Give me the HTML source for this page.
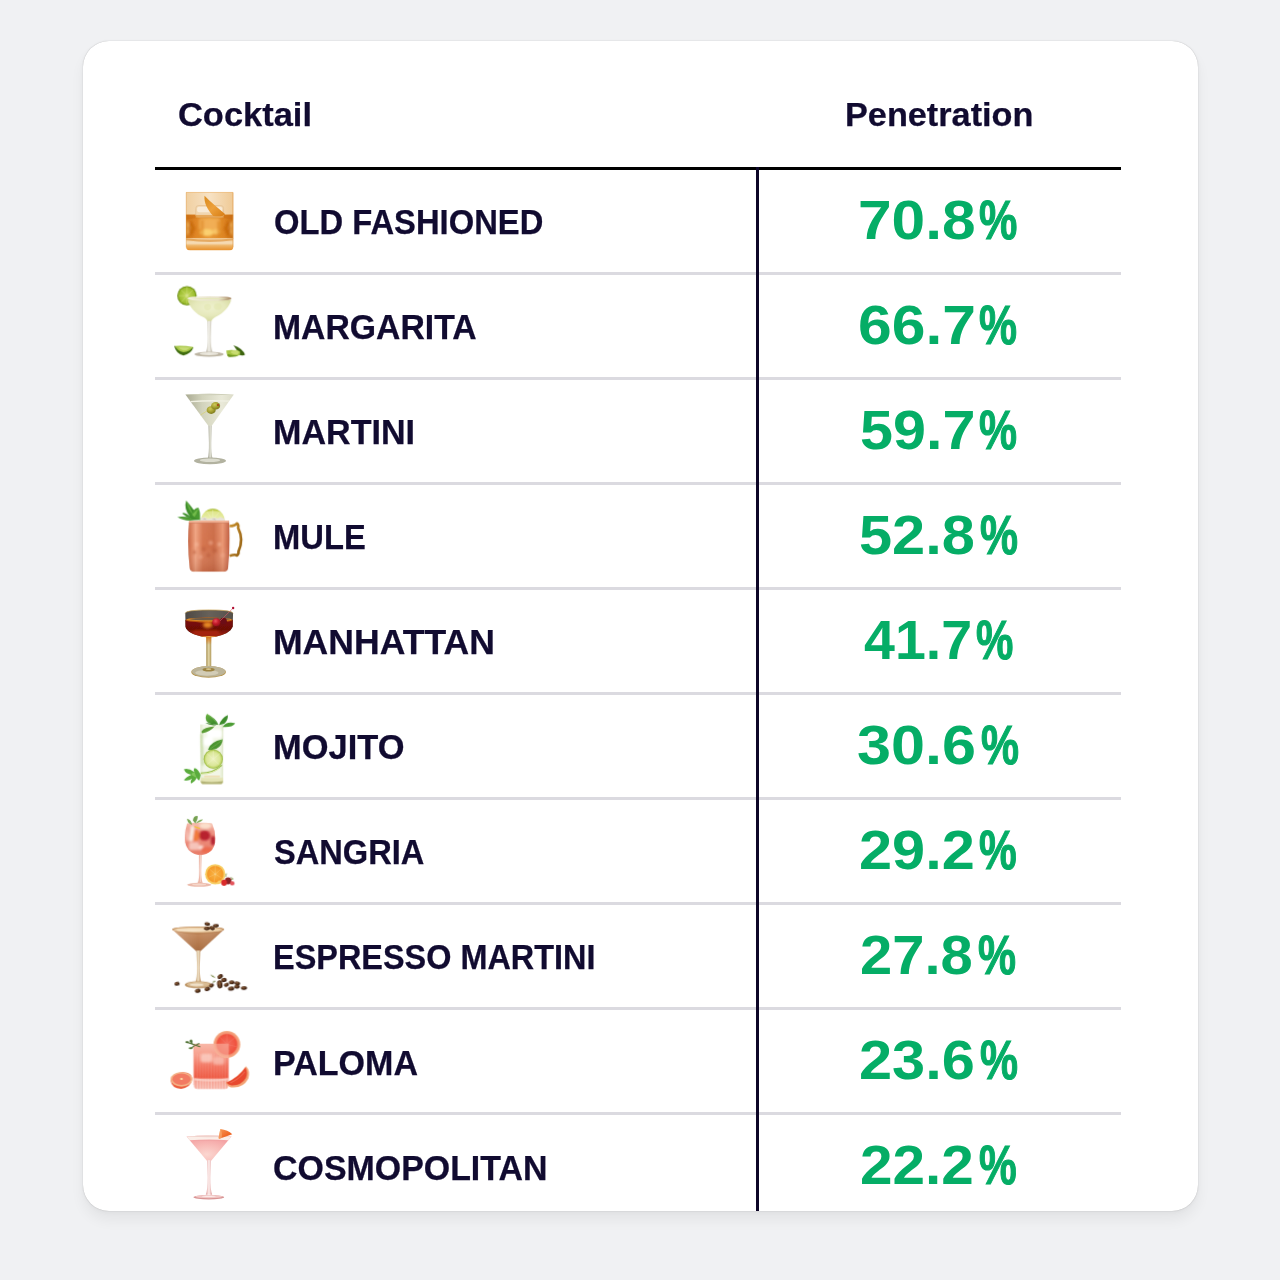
<!DOCTYPE html>
<html lang="en"><head><meta charset="utf-8"><title>Cocktail Penetration</title>
<style>
*{margin:0;padding:0;box-sizing:border-box}
html,body{width:1280px;height:1280px;overflow:hidden;background:#f0f1f3}
body{font-family:"Liberation Sans",sans-serif;font-weight:700;position:relative}
.card{position:absolute;left:83px;top:41px;width:1114.5px;height:1170px;background:#fff;border-radius:26px;box-shadow:0 0 1px rgba(0,0,0,.3),0 9px 14px rgba(0,0,0,.055),0 1px 5px rgba(0,0,0,.035)}
.card>*{position:absolute}
.t{white-space:nowrap;transform-origin:0 0}
.th{font-size:34px;line-height:34px;color:#110b30;-webkit-text-stroke:.25px #110b30}
.name{font-size:34.2px;line-height:34.2px;color:#110b30;-webkit-text-stroke:.25px #110b30}
.pct{font-size:55px;line-height:55px;color:#05ad66}
.row{left:72px;width:966px;height:105px}
.row>*{position:absolute}
.sep{left:0;top:0;width:966px;height:3px;background:#dbdae0}
.hline{left:72px;top:125.5px;width:965.6px;height:3.5px;background:#000}
.vline{left:673px;top:125.5px;width:3px;height:1044.5px;background:#0d0628}
.ico{left:0;top:3.4px;overflow:visible}
.pp{-webkit-text-stroke:1.1px #05ad66}

</style></head><body>
<div class="card">
<div class="t th" style="left:95.33px;top:56.00px;transform:scaleX(1.0128)">Cocktail</div>
<div class="t th" style="left:761.73px;top:56.00px;transform:scaleX(1.0074)">Penetration</div>
<div class="row" style="top:126.00px">
<svg class="ico" style="left:5px;top:3px" width="100" height="100" viewBox="0 0 1280 1280">
<defs>
<filter id="of-b" x="-10%" y="-10%" width="120%" height="120%"><feGaussianBlur stdDeviation="5"/></filter>
<filter id="of-b2" x="-20%" y="-20%" width="140%" height="140%"><feGaussianBlur stdDeviation="14"/></filter>
<linearGradient id="of-top" x1="0" x2="1" y1="0" y2="0"><stop offset="0" stop-color="#f0cfa0"/><stop offset=".5" stop-color="#f7e2c4"/><stop offset="1" stop-color="#efc994"/></linearGradient>
<linearGradient id="of-liq" x1="0" x2="1" y1="0" y2="0"><stop offset="0" stop-color="#cc7216"/><stop offset=".2" stop-color="#de8424"/><stop offset=".5" stop-color="#e99a36"/><stop offset=".8" stop-color="#dd8422"/><stop offset="1" stop-color="#c66c12"/></linearGradient>
<linearGradient id="of-base" x1="0" x2="0" y1="0" y2="1"><stop offset="0" stop-color="#f0c48a"/><stop offset=".4" stop-color="#f6ddb8"/><stop offset=".6" stop-color="#eeb466"/><stop offset="1" stop-color="#e78c24"/></linearGradient>
<linearGradient id="of-peel" x1="0" x2="1" y1="0" y2="1"><stop offset="0" stop-color="#d98a1e"/><stop offset=".5" stop-color="#eda03a"/><stop offset="1" stop-color="#d67c14"/></linearGradient>
<clipPath id="of-clip"><path d="M330 278H940V975Q940 1030 885 1030H388Q333 1030 333 975Z"/></clipPath>
</defs>
<g filter="url(#of-b)">
<g clip-path="url(#of-clip)">
<rect x="325" y="275" width="620" height="310" fill="url(#of-top)"/>
<rect x="325" y="275" width="620" height="14" fill="#ecb878"/>
<rect x="325" y="570" width="620" height="310" fill="url(#of-liq)"/>
<rect x="325" y="870" width="620" height="165" fill="url(#of-base)"/>
<path d="M330 585Q640 560 940 585V630Q640 595 330 630Z" fill="#c96c12" opacity=".5"/>
<g filter="url(#of-b2)">
<path d="M340 640L400 740L340 850ZM930 640L870 740L930 850Z" fill="#f5c068" opacity=".8"/>
<path d="M400 640L460 750L400 860L350 750ZM870 640L810 750L870 860L920 750Z" fill="#c05e0a" opacity=".55"/>
<rect x="500" y="620" width="270" height="150" rx="30" fill="#f4b45c" opacity=".8"/>
<ellipse cx="600" cy="800" rx="90" ry="45" fill="#fbd070"/>
<ellipse cx="720" cy="790" rx="50" ry="35" fill="#f8c466"/>
<rect x="520" y="640" width="40" height="200" fill="#d9801c" opacity=".5"/>
<rect x="730" y="650" width="40" height="190" fill="#d9801c" opacity=".5"/>
</g>
<path d="M335 872Q640 915 938 872V900Q640 945 335 900Z" fill="#d98a30" opacity=".55"/>
</g>
<rect x="458" y="455" width="355" height="150" rx="34" fill="#f1d6b0" stroke="#e6c193" stroke-width="10"/>
<rect x="475" y="470" width="320" height="70" rx="24" fill="#f8ead6"/>
<path d="M455 575H815V615H455Z" fill="#e39a40" opacity=".75"/>
<path d="M570 328C650 410 740 480 835 565C800 598 740 592 682 588C610 510 560 420 570 328Z" fill="url(#of-peel)"/>
<rect x="928" y="290" width="12" height="700" fill="#e09a48" opacity=".7"/>
<rect x="330" y="290" width="10" height="700" fill="#e09a48" opacity=".5"/>
</g>
</svg>
</div>
<div class="t name" style="left:190.50px;top:163.95px;transform:scaleX(0.9580)">OLD FASHIONED</div>
<div class="t pct" style="left:774.53px;top:151.50px;transform:scaleX(1.0983)">70.8</div><div class="t pct pp" style="left:896.45px;top:151.50px;transform:scaleX(0.7835)">%</div>
<div class="row" style="top:231.00px">
<div class="sep"></div>
<svg class="ico" style="left:5px;top:3px" width="100" height="100" viewBox="0 0 1280 1280">
<defs>
<filter id="mg-b" x="-10%" y="-10%" width="120%" height="120%"><feGaussianBlur stdDeviation="5"/></filter>
<radialGradient id="mg-lime" cx=".5" cy=".5" r=".5"><stop offset="0" stop-color="#dfe9a0"/><stop offset=".25" stop-color="#b9d252"/><stop offset=".8" stop-color="#9dbe30"/><stop offset=".9" stop-color="#7c9e18"/><stop offset="1" stop-color="#5f8410"/></radialGradient>
<radialGradient id="mg-liq" cx=".5" cy=".35" r=".6"><stop offset="0" stop-color="#eff1cf"/><stop offset=".6" stop-color="#e6e9bc"/><stop offset="1" stop-color="#d7dba2"/></radialGradient>
<linearGradient id="mg-stem" x1="0" x2="1" y1="0" y2="0"><stop offset="0" stop-color="#b5ae9c"/><stop offset=".45" stop-color="#f4f3ec"/><stop offset="1" stop-color="#bdb6a6"/></linearGradient>
<linearGradient id="mg-rim" x1="0" x2="1" y1="0" y2="0"><stop offset="0" stop-color="#f2efdd"/><stop offset=".7" stop-color="#e9e2cc"/><stop offset=".9" stop-color="#b89e7c"/><stop offset="1" stop-color="#a98a66"/></linearGradient>
</defs>
<g filter="url(#mg-b)">
<circle cx="345" cy="265" r="124" fill="url(#mg-lime)"/>
<g stroke="#d3e080" stroke-width="7" opacity=".8"><path d="M345 265L260 180M345 265L235 265M345 265L270 350M345 265L345 150M345 265L430 185M345 265L345 375"/></g>
<path d="M355 318C370 400 450 500 565 545C590 560 605 580 610 600H655C660 575 680 555 705 540C820 490 895 400 910 318Z" fill="url(#mg-liq)"/>
<ellipse cx="610" cy="410" rx="45" ry="40" fill="#dfe3a6" opacity=".4"/>
<ellipse cx="740" cy="405" rx="50" ry="40" fill="#dfe3a6" opacity=".4"/>
<path d="M350 300Q350 272 632 272Q915 272 915 300Q915 330 632 330Q350 330 350 300Z" fill="url(#mg-rim)"/>
<path d="M385 305Q632 285 880 305Q632 318 385 305Z" fill="#e4e8b8"/>
<path d="M606 590H658L650 800Q650 930 672 985H590Q612 930 612 800Z" fill="url(#mg-stem)"/>
<ellipse cx="628" cy="1015" rx="186" ry="32" fill="#bcb4a2"/>
<ellipse cx="628" cy="1008" rx="120" ry="18" fill="#ece9df"/>
<path d="M182 910Q300 935 428 925Q400 1010 300 1030Q205 1010 182 910Z" fill="#3f6c10"/>
<path d="M190 908Q300 900 425 922Q380 985 300 990Q225 975 190 908Z" fill="#a8c848"/>
<path d="M235 925Q310 915 390 930Q350 965 300 965Q255 955 235 925Z" fill="#c6db74"/>
<path d="M940 898Q1060 940 1088 1020Q1060 1040 1010 1020Q990 960 940 898Z" fill="#3c6410"/>
<path d="M848 965Q930 950 1020 975Q1040 1010 1000 1035Q900 1050 865 1040Q850 1000 848 965Z" fill="#a6c544"/>
<path d="M900 985Q960 940 1010 975Q1020 1000 990 1020Q930 1020 900 985Z" fill="#c8dc70"/>
<path d="M860 1010Q930 1030 1000 1030Q990 1050 880 1048Q862 1035 860 1010Z" fill="#6d961e"/>
</g>
</svg>
</div>
<div class="t name" style="left:189.68px;top:268.95px;transform:scaleX(0.9870)">MARGARITA</div>
<div class="t pct" style="left:774.85px;top:256.50px;transform:scaleX(1.1017)">66.7</div><div class="t pct pp" style="left:895.81px;top:256.50px;transform:scaleX(0.7772)">%</div>
<div class="row" style="top:336.00px">
<div class="sep"></div>
<svg class="ico" style="left:5px;top:3px" width="100" height="100" viewBox="0 0 1280 1280">
<defs>
<filter id="mt-b" x="-10%" y="-10%" width="120%" height="120%"><feGaussianBlur stdDeviation="5"/></filter>
<linearGradient id="mt-bowl" x1="0" x2="1" y1="0" y2="0"><stop offset="0" stop-color="#a9aa92"/><stop offset=".35" stop-color="#d2d3bc"/><stop offset=".75" stop-color="#e9e9d8"/><stop offset="1" stop-color="#dcdcc8"/></linearGradient>
<linearGradient id="mt-stem" x1="0" x2="1" y1="0" y2="0"><stop offset="0" stop-color="#9a9a88"/><stop offset=".5" stop-color="#e4e4d8"/><stop offset="1" stop-color="#a6a694"/></linearGradient>
<radialGradient id="mt-ol" cx=".4" cy=".35" r=".7"><stop offset="0" stop-color="#cfca5a"/><stop offset=".5" stop-color="#a7a232"/><stop offset="1" stop-color="#77741a"/></radialGradient>
</defs>
<g filter="url(#mt-b)">
<path d="M325 185Q635 165 945 185L660 590H620Z" fill="url(#mt-bowl)"/>
<path d="M325 185Q635 165 945 185Q635 205 325 185Z" fill="#cfd0ba"/>
<path d="M385 268Q640 250 890 262L880 278Q640 268 397 284Z" fill="#f0f0e2"/>
<path d="M325 185L450 365L395 285Z" fill="#a9aa90"/>
<path d="M620 585H662L656 800Q654 950 672 1000H612Q628 950 626 800Z" fill="url(#mt-stem)"/>
<ellipse cx="640" cy="1035" rx="205" ry="44" fill="#b2b2a0"/>
<ellipse cx="640" cy="1028" rx="130" ry="22" fill="#dcdccf"/>
<path d="M520 447L690 340" stroke="#d9d272" stroke-width="9"/>
<ellipse cx="655" cy="385" rx="58" ry="50" fill="url(#mt-ol)"/>
<ellipse cx="712" cy="330" rx="58" ry="48" fill="url(#mt-ol)"/>
<circle cx="742" cy="320" r="14" fill="#a8401c"/>
</g>
</svg>
</div>
<div class="t name" style="left:189.66px;top:373.95px;transform:scaleX(0.9971)">MARTINI</div>
<div class="t pct" style="left:777.36px;top:361.50px;transform:scaleX(1.0777)">59.7</div><div class="t pct pp" style="left:895.81px;top:361.50px;transform:scaleX(0.7772)">%</div>
<div class="row" style="top:441.00px">
<div class="sep"></div>
<svg class="ico" style="left:5px;top:3px" width="100" height="100" viewBox="0 0 1280 1280">
<defs>
<filter id="mu-b" x="-10%" y="-10%" width="120%" height="120%"><feGaussianBlur stdDeviation="5"/></filter>
<filter id="mu-b2" x="-20%" y="-20%" width="140%" height="140%"><feGaussianBlur stdDeviation="16"/></filter>
<linearGradient id="mu-cu" x1="0" x2="1" y1="0" y2="0"><stop offset="0" stop-color="#b85c3c"/><stop offset=".1" stop-color="#d87c58"/><stop offset=".2" stop-color="#f0a482"/><stop offset=".36" stop-color="#d67650"/><stop offset=".6" stop-color="#cc6c48"/><stop offset=".8" stop-color="#ea9672"/><stop offset=".92" stop-color="#c8684a"/><stop offset="1" stop-color="#a85030"/></linearGradient>
<linearGradient id="mu-sh" x1="0" x2="0" y1="0" y2="1"><stop offset="0" stop-color="#fff" stop-opacity=".04"/><stop offset=".5" stop-color="#fff" stop-opacity="0"/><stop offset="1" stop-color="#7a2c14" stop-opacity=".22"/></linearGradient>
<radialGradient id="mu-lime" cx=".5" cy="1" r="1"><stop offset="0" stop-color="#eef2bc"/><stop offset=".75" stop-color="#dfe68c"/><stop offset=".9" stop-color="#b9c840"/><stop offset="1" stop-color="#98ae28"/></radialGradient>
<linearGradient id="mu-h" x1="0" x2="1" y1="0" y2="1"><stop offset="0" stop-color="#c8902c"/><stop offset="1" stop-color="#946014"/></linearGradient>
<clipPath id="mu-c"><path d="M372 462Q372 455 385 455H872Q885 455 885 462Q905 750 872 1060Q868 1108 820 1110H430Q385 1108 380 1060Q345 750 372 462Z"/></clipPath>
</defs>
<g filter="url(#mu-b)">
<path d="M890 525Q960 525 985 492Q1010 510 1000 550Q1075 700 1005 850Q1010 885 985 900Q960 885 892 905" fill="none" stroke="url(#mu-h)" stroke-width="34" stroke-linejoin="round"/>
<path d="M525 455A150 150 0 0 1 828 455Z" fill="url(#mu-lime)"/>
<g stroke="#eef2c0" stroke-width="7" opacity=".8"><path d="M676 450L600 340M676 450L676 315M676 450L760 345M676 450L560 400M676 450L800 400"/></g>
<path d="M500 455L520 420L580 412L610 435L650 425L700 415L740 430L770 412L820 425L835 455Z" fill="#e8e2d8"/>
<path d="M540 440L575 425L600 445ZM660 440L700 428L720 448Z" fill="#c9c0b4"/>
<g clip-path="url(#mu-c)">
<rect x="340" y="450" width="580" height="670" fill="url(#mu-cu)"/>
<rect x="340" y="450" width="580" height="670" fill="url(#mu-sh)"/>
<rect x="340" y="452" width="580" height="34" fill="#f4b89c" opacity=".85"/>
<rect x="340" y="484" width="580" height="8" fill="#b45a3c" opacity=".6"/>
<g filter="url(#mu-b2)" opacity=".55">
<circle cx="470" cy="760" r="28" fill="#f8c0a4"/><circle cx="560" cy="820" r="28" fill="#b85a3a"/><circle cx="650" cy="740" r="28" fill="#f4b498"/><circle cx="700" cy="840" r="30" fill="#b45636"/><circle cx="760" cy="760" r="26" fill="#f8c4a8"/><circle cx="520" cy="920" r="28" fill="#f0ac90"/><circle cx="620" cy="900" r="26" fill="#b85a3a"/><circle cx="800" cy="900" r="28" fill="#f0ac90"/><circle cx="440" cy="860" r="24" fill="#b85a3a"/>
</g>
</g>
<path d="M512 445Q450 330 335 200Q300 300 380 400Q300 340 285 365Q330 410 400 425Q300 395 225 412Q320 470 440 450Z" fill="#3f8f2c"/>
<path d="M512 445Q520 340 490 290Q420 300 410 380Q440 430 512 445Z" fill="#4a9a30"/>
<path d="M335 200Q390 290 420 380Q360 320 335 200Z" fill="#6cb544"/>
<path d="M225 412Q320 420 420 440Q320 450 225 412Z" fill="#62ac3c"/>
<path d="M410 380Q450 340 490 300Q470 370 440 410Z" fill="#72bb4a"/>
</g>
</svg>
</div>
<div class="t name" style="left:189.75px;top:478.95px;transform:scaleX(0.9572)">MULE</div>
<div class="t pct" style="left:776.36px;top:466.50px;transform:scaleX(1.0824)">52.8</div><div class="t pct pp" style="left:896.81px;top:466.50px;transform:scaleX(0.7772)">%</div>
<div class="row" style="top:546.00px">
<div class="sep"></div>
<svg class="ico" style="left:5px;top:3px" width="100" height="100" viewBox="0 0 1280 1280">
<defs>
<filter id="mh-b" x="-10%" y="-10%" width="120%" height="120%"><feGaussianBlur stdDeviation="5"/></filter>
<filter id="mh-b2" x="-30%" y="-30%" width="160%" height="160%"><feGaussianBlur stdDeviation="18"/></filter>
<linearGradient id="mh-liq" x1="0" x2="0" y1="0" y2="1"><stop offset="0" stop-color="#7a1208"/><stop offset=".45" stop-color="#6c0e06"/><stop offset=".8" stop-color="#a8260c"/><stop offset="1" stop-color="#c8581c"/></linearGradient>
<linearGradient id="mh-gl" x1="0" x2="1" y1="0" y2="0"><stop offset="0" stop-color="#4c4742"/><stop offset=".5" stop-color="#67615a"/><stop offset="1" stop-color="#55504a"/></linearGradient>
<linearGradient id="mh-stem" x1="0" x2="1" y1="0" y2="0"><stop offset="0" stop-color="#a89050"/><stop offset=".5" stop-color="#e2d6a8"/><stop offset="1" stop-color="#b09858"/></linearGradient>
<linearGradient id="mh-stemv" x1="0" x2="0" y1="0" y2="1"><stop offset="0" stop-color="#d8781c"/><stop offset=".25" stop-color="#d8781c" stop-opacity="0"/></linearGradient>
<radialGradient id="mh-ch" cx=".4" cy=".35" r=".7"><stop offset="0" stop-color="#e8505c"/><stop offset=".5" stop-color="#c41c2c"/><stop offset="1" stop-color="#8c0c18"/></radialGradient>
<clipPath id="mh-c"><path d="M322 300Q322 255 628 255Q935 255 935 300L930 470Q900 560 700 600Q628 612 556 600Q350 560 326 470Z"/></clipPath>
</defs>
<g filter="url(#mh-b)">
<g clip-path="url(#mh-c)">
<rect x="300" y="240" width="660" height="400" fill="url(#mh-gl)"/>
<rect x="300" y="385" width="660" height="260" fill="url(#mh-liq)"/>
<ellipse cx="628" cy="385" rx="300" ry="32" fill="#b8540e"/>
<ellipse cx="628" cy="378" rx="290" ry="24" fill="#d98a2a"/>
<ellipse cx="640" cy="372" rx="260" ry="16" fill="#6a5a48"/>
<ellipse cx="610" cy="445" rx="60" ry="40" fill="#e88a20" filter="url(#mh-b2)"/>
<rect x="420" y="520" width="340" height="40" rx="20" fill="#c8300c" opacity=".7" filter="url(#mh-b2)"/>
<ellipse cx="628" cy="610" rx="130" ry="22" fill="#eaa048"/>
</g>
<path d="M322 300Q322 255 628 255Q935 255 935 300" fill="none" stroke="#c9a252" stroke-width="9"/>
<path d="M592 600H656V1010H592Z" fill="url(#mh-stem)"/>
<path d="M592 600H656V1010H592Z" fill="url(#mh-stemv)"/>
<ellipse cx="622" cy="1048" rx="222" ry="76" fill="#b89a58"/>
<ellipse cx="622" cy="1042" rx="214" ry="68" fill="#bcb498"/>
<ellipse cx="600" cy="1060" rx="150" ry="36" fill="#d2ccb6"/>
<ellipse cx="622" cy="1020" rx="78" ry="24" fill="#9c8240"/>
<ellipse cx="622" cy="1012" rx="36" ry="12" fill="#d8c890"/>
<circle cx="812" cy="400" r="44" fill="#6c0c14"/>
<path d="M765 400L935 232" stroke="#d86070" stroke-width="8"/>
<circle cx="936" cy="230" r="15" fill="#b01030"/>
<circle cx="722" cy="412" r="52" fill="url(#mh-ch)"/>
</g>
</svg>
</div>
<div class="t name" style="left:189.56px;top:583.95px;transform:scaleX(1.0402)">MANHATTAN</div>
<div class="t pct" style="left:780.59px;top:571.50px;transform:scaleX(1.0096)">41.7</div><div class="t pct pp" style="left:892.62px;top:571.50px;transform:scaleX(0.7624)">%</div>
<div class="row" style="top:651.00px">
<div class="sep"></div>
<svg class="ico" style="left:5px;top:3px" width="100" height="100" viewBox="0 0 1280 1280">
<defs>
<filter id="mj-b" x="-10%" y="-10%" width="120%" height="120%"><feGaussianBlur stdDeviation="5"/></filter>
<filter id="mj-b2" x="-30%" y="-30%" width="160%" height="160%"><feGaussianBlur stdDeviation="14"/></filter>
<linearGradient id="mj-gl" x1="0" x2="1" y1="0" y2="0"><stop offset="0" stop-color="#dfe8cc"/><stop offset=".15" stop-color="#f2f6e8"/><stop offset=".85" stop-color="#f2f6e6"/><stop offset="1" stop-color="#dde6c6"/></linearGradient>
<radialGradient id="mj-lime" cx=".5" cy=".5" r=".5"><stop offset="0" stop-color="#eef3c0"/><stop offset=".7" stop-color="#dbe79a"/><stop offset=".88" stop-color="#c3d86c"/><stop offset="1" stop-color="#9cba3c"/></radialGradient>
<linearGradient id="mj-leaf" x1="0" x2="1" y1="0" y2="1"><stop offset="0" stop-color="#6cb444"/><stop offset="1" stop-color="#2f7f24"/></linearGradient>
</defs>
<g filter="url(#mj-b)">
<path d="M515 378H812L808 1100Q808 1140 770 1140H560Q520 1140 520 1100Z" fill="url(#mj-gl)"/>
<path d="M520 1060H808V1100Q808 1140 770 1140H560Q520 1140 520 1100Z" fill="#e4e4b4"/>
<path d="M522 1100Q660 1125 806 1100Q808 1140 770 1140H560Q520 1140 522 1100Z" fill="#b4b478"/>
<rect x="560" y="1030" width="210" height="22" rx="10" fill="#ecd9a8" opacity=".8"/>
<g filter="url(#mj-b2)">
<rect x="600" y="440" width="190" height="110" rx="30" fill="#fff"/>
<rect x="560" y="540" width="120" height="110" rx="30" fill="#fff"/>
<path d="M530 500Q540 700 545 900" stroke="#9cc060" stroke-width="16" fill="none" opacity=".7"/>
</g>
<path d="M528 470Q560 410 700 400Q640 470 540 490Z" fill="#5a9c34"/>
<path d="M612 700Q640 600 800 568Q800 650 720 690Q670 710 612 700Z" fill="#4c9432"/>
<path d="M640 690Q720 640 795 575" stroke="#7cbc54" stroke-width="7" fill="none"/>
<circle cx="680" cy="820" r="122" fill="url(#mj-lime)"/>
<circle cx="680" cy="820" r="118" fill="none" stroke="#8cae34" stroke-width="7" opacity=".7"/>
<g stroke="#f4f7d4" stroke-width="6" opacity=".8"><path d="M680 820L600 750M680 820L680 710M680 820L765 750M680 820L600 890M680 820L760 895"/></g>
<path d="M520 1000Q680 1000 792 898" stroke="#90b83c" stroke-width="16" fill="none"/>
<path d="M525 1010Q660 1020 770 930" stroke="#d8e69a" stroke-width="12" fill="none"/>
<path d="M745 380Q720 300 600 240Q560 300 610 350Q660 380 745 380Z" fill="url(#mj-leaf)"/>
<path d="M600 240Q680 300 745 380" stroke="#8ccc60" stroke-width="6" fill="none"/>
<path d="M755 385Q780 300 868 258Q870 330 820 370Z" fill="#3c8c2c"/>
<path d="M800 410Q850 330 962 362Q920 420 800 410Z" fill="#4c9c34"/>
<path d="M580 360Q640 350 720 385Q640 395 580 360Z" fill="#3a8428"/>
<path d="M520 1020Q480 940 440 935Q420 960 440 985Q360 930 305 950Q330 1010 400 1020Q330 1050 305 1090Q360 1110 410 1070Q380 1110 400 1135Q450 1110 470 1060Q480 1090 500 1095Q515 1060 520 1020Z" fill="#5aac3c"/>
<path d="M440 985Q400 1000 400 1020Q430 1040 470 1060Q450 1020 440 985Z" fill="#82c85c"/>
</g>
</svg>
</div>
<div class="t name" style="left:189.63px;top:688.95px;transform:scaleX(1.0079)">MOJITO</div>
<div class="t pct" style="left:774.26px;top:676.50px;transform:scaleX(1.1115)">30.6</div><div class="t pct pp" style="left:897.51px;top:676.50px;transform:scaleX(0.7772)">%</div>
<div class="row" style="top:756.00px">
<div class="sep"></div>
<svg class="ico" style="left:5px;top:3px" width="100" height="100" viewBox="0 0 1280 1280">
<defs>
<filter id="sg-b" x="-10%" y="-10%" width="120%" height="120%"><feGaussianBlur stdDeviation="5"/></filter>
<filter id="sg-b2" x="-30%" y="-30%" width="160%" height="160%"><feGaussianBlur stdDeviation="14"/></filter>
<radialGradient id="sg-or" cx=".5" cy=".5" r=".5"><stop offset="0" stop-color="#fbd28a"/><stop offset=".15" stop-color="#f8b040"/><stop offset=".75" stop-color="#f59a28"/><stop offset=".86" stop-color="#f8c860"/><stop offset="1" stop-color="#f6d568"/></radialGradient>
<linearGradient id="sg-liq" x1="0" x2="0" y1="0" y2="1"><stop offset="0" stop-color="#f6c8b8"/><stop offset=".3" stop-color="#ee9484"/><stop offset="1" stop-color="#e87a66"/></linearGradient>
<clipPath id="sg-c"><path d="M345 300Q520 275 665 300Q720 420 705 540Q680 690 515 705Q350 690 322 540Q310 420 345 300Z"/></clipPath>
</defs>
<g filter="url(#sg-b)">
<g clip-path="url(#sg-c)">
<rect x="300" y="270" width="440" height="450" fill="url(#sg-liq)"/>
<g filter="url(#sg-b2)">
<ellipse cx="580" cy="330" rx="80" ry="40" fill="#fbe0cc"/>
<ellipse cx="570" cy="455" rx="75" ry="65" fill="#b8202e"/>
<ellipse cx="680" cy="520" rx="30" ry="60" fill="#b42030"/>
<ellipse cx="455" cy="455" rx="50" ry="75" fill="#f27c3c"/>
<rect x="380" y="330" width="50" height="200" rx="20" fill="#fbeee6" transform="rotate(8 400 430)"/>
<rect x="370" y="540" width="130" height="100" rx="24" fill="#f6c4ba"/>
<rect x="500" y="580" width="50" height="60" rx="14" fill="#fde6e0"/>
<ellipse cx="600" cy="640" rx="80" ry="40" fill="#ec6c50"/>
<ellipse cx="345" cy="450" rx="20" ry="80" fill="#f6c0b4"/>
</g>
</g>
<path d="M440 340Q470 350 510 365" stroke="#f4c040" stroke-width="16" fill="none"/>
<path d="M345 240Q400 250 410 320Q350 300 345 240Z" fill="#7ea858"/>
<path d="M420 260Q430 200 480 205Q490 250 450 300Z" fill="#74a050"/>
<path d="M455 300Q500 245 550 250Q520 290 455 300Z" fill="#86b060"/>
<path d="M497 700H532L526 900Q526 1020 545 1062H480Q502 1020 502 900Z" fill="#ecb4a4"/>
<path d="M510 705H520V1050H510Z" fill="#f8dcd2"/>
<ellipse cx="502" cy="1085" rx="156" ry="26" fill="#ebb9a9"/>
<ellipse cx="500" cy="1080" rx="90" ry="13" fill="#f6d8cc"/>
<circle cx="706" cy="950" r="130" fill="url(#sg-or)"/>
<g stroke="#fbd08a" stroke-width="6" opacity=".7"><path d="M706 950L630 880M706 950L706 840M706 950L785 880M706 950L620 990M706 950L790 1000M706 950L690 1060"/></g>
<path d="M740 1040Q770 1015 785 1050Q770 1085 735 1075Z" fill="#f8d070"/>
<path d="M850 940L840 985M905 990L935 1010L900 1020" stroke="#7a8c3c" stroke-width="10" fill="none"/>
<ellipse cx="872" cy="1035" rx="42" ry="44" fill="#8a2226"/>
<ellipse cx="820" cy="1058" rx="38" ry="40" fill="#d92c2c"/>
<circle cx="925" cy="1066" r="28" fill="#e4545c"/>
</g>
</svg>
</div>
<div class="t name" style="left:190.65px;top:793.95px;transform:scaleX(0.9541)">SANGRIA</div>
<div class="t pct" style="left:775.86px;top:781.50px;transform:scaleX(1.0809)">29.2</div><div class="t pct pp" style="left:896.11px;top:781.50px;transform:scaleX(0.7709)">%</div>
<div class="row" style="top:861.00px">
<div class="sep"></div>
<svg class="ico" style="left:5px;top:3px" width="100" height="100" viewBox="0 0 1280 1280">
<defs>
<filter id="es-b" x="-10%" y="-10%" width="120%" height="120%"><feGaussianBlur stdDeviation="5"/></filter>
<linearGradient id="es-liq" x1="0" x2="0" y1="0" y2="1"><stop offset="0" stop-color="#d2a070"/><stop offset=".35" stop-color="#c0865a"/><stop offset="1" stop-color="#a86c40"/></linearGradient>
<linearGradient id="es-lh" x1="0" x2="1" y1="0" y2="0"><stop offset="0" stop-color="#fff" stop-opacity=".22"/><stop offset=".5" stop-color="#fff" stop-opacity="0"/><stop offset="1" stop-color="#5a2c10" stop-opacity=".2"/></linearGradient>
<linearGradient id="es-stem" x1="0" x2="1" y1="0" y2="0"><stop offset="0" stop-color="#b88c58"/><stop offset=".45" stop-color="#f0e2c8"/><stop offset="1" stop-color="#b48450"/></linearGradient>
<radialGradient id="es-bean" cx=".4" cy=".35" r=".7"><stop offset="0" stop-color="#8a5c38"/><stop offset=".5" stop-color="#54321c"/><stop offset="1" stop-color="#30190c"/></radialGradient>
</defs>
<g filter="url(#es-b)">
<path d="M155 312Q155 278 488 278Q822 278 822 312L520 590H462Z" fill="url(#es-liq)"/>
<path d="M155 312Q155 278 488 278Q822 278 822 312L520 590H462Z" fill="url(#es-lh)"/>
<ellipse cx="488" cy="314" rx="333" ry="38" fill="#c79868"/>
<ellipse cx="488" cy="318" rx="312" ry="30" fill="#ecd0aa"/>
<ellipse cx="400" cy="322" rx="190" ry="18" fill="#f6e4c8"/>
<path d="M170 330Q488 420 806 330Q488 395 170 330Z" fill="#b07a4c" opacity=".7"/>
<path d="M466 585H516L508 800Q508 940 530 990H452Q474 940 474 800Z" fill="url(#es-stem)"/>
<ellipse cx="490" cy="1020" rx="172" ry="46" fill="#b98f5e"/>
<ellipse cx="490" cy="1014" rx="150" ry="34" fill="#d9bc94"/>
<ellipse cx="470" cy="1020" rx="90" ry="18" fill="#efe0c8"/>
<path d="M640 888Q690 900 715 935Q670 930 640 888Z" fill="#6c7c34"/>
<path d="M665 985Q700 965 715 975Q695 995 665 985Z" fill="#5c6c2c"/>
<ellipse cx="765" cy="1015" rx="34" ry="52" fill="url(#es-bean)" transform="rotate(-8 765 1015)"/>
<path d="M760 970Q775 1015 765 1062" stroke="#a07850" stroke-width="7" fill="none"/>
<ellipse cx="218" cy="1008" rx="34" ry="24" fill="url(#es-bean)" transform="rotate(-10 218 1008)"/>
<ellipse cx="483" cy="1098" rx="36" ry="26" fill="url(#es-bean)" transform="rotate(-15 483 1098)"/>
<ellipse cx="605" cy="1075" rx="36" ry="26" fill="url(#es-bean)" transform="rotate(-20 605 1075)"/>
<ellipse cx="660" cy="1030" rx="32" ry="24" fill="url(#es-bean)" transform="rotate(-30 660 1030)"/>
<ellipse cx="770" cy="915" rx="38" ry="28" fill="url(#es-bean)" transform="rotate(-35 770 915)"/>
<ellipse cx="818" cy="960" rx="36" ry="27" fill="url(#es-bean)" transform="rotate(-10 818 960)"/>
<ellipse cx="850" cy="1022" rx="34" ry="24" fill="url(#es-bean)" transform="rotate(-20 850 1022)"/>
<ellipse cx="918" cy="990" rx="36" ry="24" fill="url(#es-bean)" transform="rotate(-5 918 990)"/>
<ellipse cx="990" cy="1004" rx="36" ry="24" fill="url(#es-bean)" transform="rotate(10 990 1004)"/>
<ellipse cx="910" cy="1070" rx="40" ry="26" fill="url(#es-bean)" transform="rotate(-10 910 1070)"/>
<ellipse cx="985" cy="1046" rx="36" ry="24" fill="url(#es-bean)" transform="rotate(-5 985 1046)"/>
<ellipse cx="1075" cy="1062" rx="40" ry="24" fill="url(#es-bean)" transform="rotate(-5 1075 1062)"/>
<ellipse cx="605" cy="242" rx="36" ry="22" fill="url(#es-bean)" transform="rotate(10 605 242)"/>
<ellipse cx="715" cy="265" rx="38" ry="22" fill="url(#es-bean)" transform="rotate(-5 715 265)"/>
<ellipse cx="600" cy="300" rx="38" ry="22" fill="url(#es-bean)" transform="rotate(-5 600 300)"/>
<ellipse cx="668" cy="296" rx="34" ry="24" fill="url(#es-bean)" transform="rotate(20 668 296)"/>
</g>
</svg>
</div>
<div class="t name" style="left:189.77px;top:898.95px;transform:scaleX(0.9484)">ESPRESSO MARTINI</div>
<div class="t pct" style="left:776.91px;top:886.50px;transform:scaleX(1.0525)">27.8</div><div class="t pct pp" style="left:894.71px;top:886.50px;transform:scaleX(0.7772)">%</div>
<div class="row" style="top:966.00px">
<div class="sep"></div>
<svg class="ico" style="left:5px;top:3px" width="100" height="100" viewBox="0 0 1280 1280">
<defs>
<filter id="pa-b" x="-10%" y="-10%" width="120%" height="120%"><feGaussianBlur stdDeviation="5"/></filter>
<filter id="pa-b2" x="-30%" y="-30%" width="160%" height="160%"><feGaussianBlur stdDeviation="14"/></filter>
<linearGradient id="pa-gl" x1="0" x2="0" y1="0" y2="1"><stop offset="0" stop-color="#f9b8a8"/><stop offset=".25" stop-color="#f7a08e"/><stop offset=".5" stop-color="#f37460"/><stop offset=".75" stop-color="#ee5a44"/><stop offset=".78" stop-color="#f7a090"/><stop offset="1" stop-color="#f8b8ac"/></linearGradient>
<radialGradient id="pa-gf" cx=".5" cy=".5" r=".5"><stop offset="0" stop-color="#f47060"/><stop offset=".72" stop-color="#f0523e"/><stop offset=".82" stop-color="#f49070"/><stop offset="1" stop-color="#f4b088"/></radialGradient>
<pattern id="pa-rib" width="36" height="10" patternUnits="userSpaceOnUse"><rect width="14" height="10" fill="#fff" opacity=".35"/><rect x="22" width="8" height="10" fill="#e05840" opacity=".25"/></pattern>
</defs>
<g filter="url(#pa-b)">
<path d="M430 432H880L876 960Q876 1012 830 1012H478Q432 1012 432 960Z" fill="url(#pa-gl)"/>
<path d="M432 560H878V870H432Z" fill="url(#pa-rib)" opacity=".3"/><path d="M432 880H878V960Q876 1012 830 1012H478Q432 1012 432 960Z" fill="url(#pa-rib)"/>
<g filter="url(#pa-b2)"><rect x="520" y="560" width="150" height="110" rx="30" fill="#fbd0c4" opacity=".8"/><rect x="680" y="600" width="140" height="100" rx="30" fill="#fac4b8" opacity=".7"/></g>
<path d="M432 870Q655 905 878 870V900Q655 930 432 900Z" fill="#fbd2c8" opacity=".8"/><path d="M431 434V960M879 434V960" stroke="#f08a78" stroke-width="8" opacity=".6"/>
<path d="M332 410Q420 440 510 470M390 395L420 440M445 450L400 490M470 440L500 430" stroke="#4c6c30" stroke-width="14" fill="none" stroke-linecap="round"/>
<ellipse cx="350" cy="412" rx="22" ry="14" fill="#4c7030"/><ellipse cx="398" cy="400" rx="16" ry="22" fill="#4c7030"/><ellipse cx="392" cy="488" rx="24" ry="12" fill="#557a36"/>
<circle cx="856" cy="440" r="172" fill="url(#pa-gf)"/>
<clipPath id="pa-ov"><rect x="430" y="432" width="450" height="300"/></clipPath><circle cx="856" cy="440" r="174" fill="#f9b4a4" opacity=".6" clip-path="url(#pa-ov)"/>
<g stroke="#f8907c" stroke-width="6" opacity=".6"><path d="M856 440L760 340M856 440L856 300M856 440L960 350M856 440L730 450M856 440L980 470M856 440L900 570"/></g>
<path d="M135 900Q150 800 290 795Q410 800 412 880Q400 990 270 1010Q150 1000 135 900Z" fill="#ec5c3c"/>
<ellipse cx="275" cy="888" rx="140" ry="92" fill="#f4b488"/>
<ellipse cx="275" cy="886" rx="118" ry="74" fill="#f27a62"/>
<ellipse cx="275" cy="882" rx="18" ry="12" fill="#fbe0a8"/>
<path d="M842 935Q1010 860 1100 720Q1160 780 1130 880Q1060 1010 905 990Q860 975 842 935Z" fill="#f2a274"/>
<path d="M850 930Q1010 860 1092 735Q1128 800 1100 870Q1040 970 915 965Q870 955 850 930Z" fill="#e8482e"/>
<path d="M900 935Q1020 880 1085 790" stroke="#f27860" stroke-width="14" fill="none" opacity=".7"/>
</g>
</svg>
</div>
<div class="t name" style="left:189.76px;top:1004.95px;transform:scaleX(0.9965)">PALOMA</div>
<div class="t pct" style="left:776.36px;top:991.50px;transform:scaleX(1.0821)">23.6</div><div class="t pct pp" style="left:896.81px;top:991.50px;transform:scaleX(0.7772)">%</div>
<div class="row" style="top:1071.00px">
<div class="sep"></div>
<svg class="ico" style="left:5px;top:3px" width="100" height="100" viewBox="0 0 1280 1280">
<defs>
<filter id="co-b" x="-10%" y="-10%" width="120%" height="120%"><feGaussianBlur stdDeviation="5"/></filter>
<radialGradient id="co-liq" cx=".45" cy=".75" r=".7"><stop offset="0" stop-color="#fbd6d0"/><stop offset=".5" stop-color="#f8bcb8"/><stop offset="1" stop-color="#f3a0a2"/></radialGradient>
<linearGradient id="co-stem" x1="0" x2="1" y1="0" y2="0"><stop offset="0" stop-color="#e09c9c"/><stop offset=".5" stop-color="#fdf0ee"/><stop offset="1" stop-color="#dc9494"/></linearGradient>
<linearGradient id="co-peel" x1="0" x2="1" y1="0" y2="1"><stop offset="0" stop-color="#f89a58"/><stop offset=".6" stop-color="#f06a28"/><stop offset="1" stop-color="#e85818"/></linearGradient>
</defs>
<g filter="url(#co-b)">
<path d="M340 275Q628 250 915 275L655 585H600Z" fill="url(#co-liq)"/>
<path d="M340 275Q628 250 915 275L875 322Q628 305 380 322Z" fill="#fbeee8"/>
<path d="M340 275Q628 250 915 275Q628 292 340 275Z" fill="#f0d2cc"/>
<path d="M380 322Q628 345 875 322Q628 332 380 322Z" fill="#f0a0a0"/>
<path d="M602 580H652L644 800Q644 960 668 1020H586Q610 960 610 800Z" fill="url(#co-stem)"/>
<ellipse cx="625" cy="1052" rx="196" ry="28" fill="#d89494"/>
<ellipse cx="625" cy="1046" rx="170" ry="20" fill="#f2c8c6"/>
<ellipse cx="625" cy="1040" rx="90" ry="10" fill="#fbeae8"/>
<path d="M772 180Q870 195 925 245L760 305Q745 300 752 280Z" fill="url(#co-peel)"/>
<path d="M772 180Q800 220 790 295L760 305Q745 300 752 280Z" fill="#f8b078" opacity=".6"/>
</g>
</svg>
</div>
<div class="t name" style="left:190.46px;top:1109.95px;transform:scaleX(0.9921)">COSMOPOLITAN</div>
<div class="t pct" style="left:776.89px;top:1096.50px;transform:scaleX(1.0625)">22.2</div><div class="t pct pp" style="left:896.11px;top:1096.50px;transform:scaleX(0.7709)">%</div>
<div class="hline"></div><div class="vline"></div>
</div></body></html>
